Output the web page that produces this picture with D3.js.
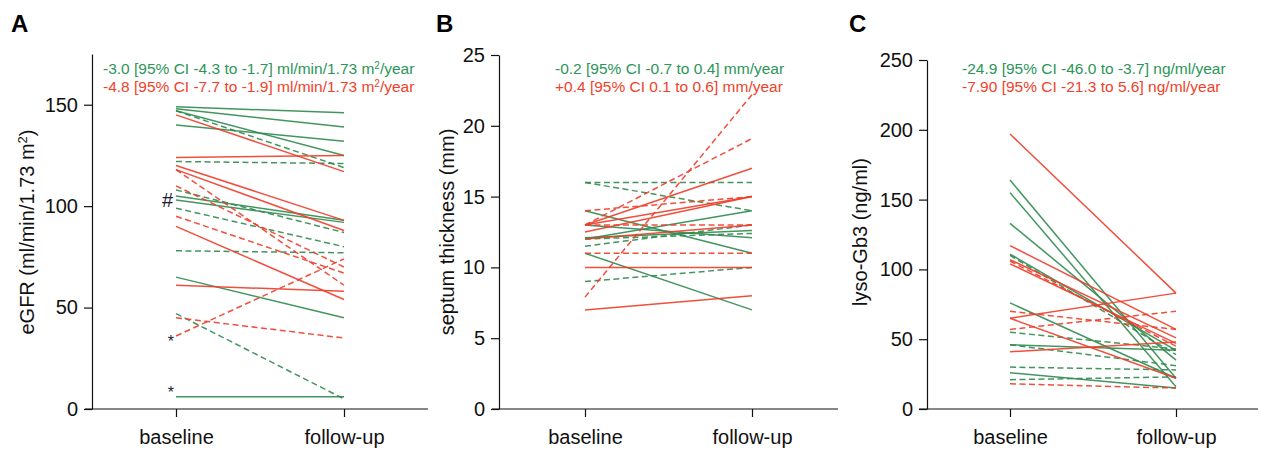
<!DOCTYPE html>
<html>
<head>
<meta charset="utf-8">
<script src="https://cdn.jsdelivr.net/npm/d3@7"></script>
<style>
  body { margin: 0; background: #fff; }
  svg { font-family: "Liberation Sans", Arial, Helvetica, sans-serif; }
  .axis text { font-size: 20px; fill: #111; }
  .axis path, .axis line { stroke: #111; stroke-width: 1.2; }
</style>
</head>
<body>
<svg id="chart" width="1261" height="449"></svg>
<script>
// each pair is [baseline, follow-up]
// A: eGFR
var egfrGreenSolid = [[149, 146], [148, 139], [147, 125], [140, 132], [105, 93], [103, 92], [65, 45], [6, 6]];
var egfrGreenDashed = [[147, 119], [122, 121], [108, 87], [99, 80], [78, 77], [47, 5]];
var egfrRedSolid = [[145, 117], [124, 125], [120, 93], [118, 88], [90, 54], [61, 58]];
var egfrRedDashed = [[118, 61], [110, 70], [95, 67], [45, 35], [36, 74]];
var egfrMarks = [["#", 103], ["*", 35], ["*", 10]];

// B: septum thickness
var septGreenSolid = [[14, 11], [13, 12.1], [12, 14], [12.1, 12.6], [11, 7]];
var septGreenDashed = [[16, 16], [16, 14], [11.5, 13], [12, 12.4], [9, 10]];
var septRedSolid = [[13, 17], [13, 15], [12.5, 15], [12, 13], [10, 10], [7, 8]];
var septRedDashed = [[14, 15], [13, 19.1], [13, 13], [11, 11], [7.9, 22.2]];

// C: lyso-Gb3
var lysoGreenSolid = [[164, 22], [155, 16], [133, 35], [111, 42], [76, 22], [46, 42], [26, 15]];
var lysoGreenDashed = [[110, 39], [55, 43], [46, 31], [30, 28], [21, 23]];
var lysoRedSolid = [[197, 83], [65, 83], [65, 22], [117, 57], [107, 51], [104, 47], [41, 48]];
var lysoRedDashed = [[70, 57], [57, 70], [106, 45], [18, 15]];

var timepoints = ["baseline", "follow-up"];

var green = "#2f8a4f";
var red = "#f03c28";
var greenText = "#2c9558";
var redText = "#f23f2a";

var svg = d3.select("#chart");

function drawPanel(p) {
    var y = d3.scaleLinear().domain(p.yDomain).range([409, p.yTop]);
    var x = d3.scalePoint().domain(timepoints).range(p.xRange);

    var g = svg.append("g");

    // x axis: long base line + ticks
    g.append("line")
        .attr("x1", p.xLine[0]).attr("x2", p.xLine[1])
        .attr("y1", 409).attr("y2", 409)
        .attr("stroke", "#111").attr("stroke-width", 1.2);
    var gx = g.append("g")
        .attr("class", "axis")
        .attr("transform", "translate(0,409)")
        .call(d3.axisBottom(x).tickSize(8).tickPadding(13));
    gx.select(".domain").remove();

    var gy = g.append("g")
        .attr("class", "axis")
        .attr("transform", "translate(" + p.yAxisX + ",0)")
        .call(d3.axisLeft(y).tickValues(p.yTicks).tickSize(8).tickSizeOuter(0).tickPadding(6));

    var line = d3.line()
        .x(function (d, i) { return x(timepoints[i]); })
        .y(function (d) { return y(d); });

    p.series.forEach(function (s) {
        g.append("g").selectAll("path")
            .data(s.data)
            .enter().append("path")
            .attr("d", line)
            .attr("fill", "none")
            .attr("stroke", s.color)
            .attr("stroke-width", 1.5)
            .attr("stroke-opacity", 0.9)
            .attr("stroke-dasharray", s.dashed ? "6,3.5" : null);
    });

    // y label
    var lab = g.append("text")
        .attr("transform", "translate(" + p.labelX + ",232) rotate(-90)")
        .attr("text-anchor", "middle")
        .style("font-size", "20px")
        .attr("fill", "#111");
    p.label.forEach(function (part) {
        var t = lab.append("tspan").text(part.t);
        if (part.sup) t.attr("baseline-shift", "super").style("font-size", "13px");
    });

    // panel letter
    g.append("text")
        .attr("x", p.letterX).attr("y", 32)
        .style("font-size", "24px").style("font-weight", "bold")
        .attr("fill", "#000")
        .text(p.letter);

    // slope annotations
    p.notes.forEach(function (n, i) {
        var t = g.append("text")
            .attr("x", p.noteX).attr("y", 74 + i * 18)
            .style("font-size", "15.5px")
            .attr("fill", n.color);
        n.parts.forEach(function (part) {
            var s = t.append("tspan").text(part.t);
            if (part.sup) s.attr("baseline-shift", "super").style("font-size", "10px");
        });
    });

    return { x: x, y: y, g: g };
}

var a = drawPanel({
    letter: "A", letterX: 11,
    yDomain: [0, 175], yTop: 54, yTicks: [0, 50, 100, 150], yAxisX: 92,
    xRange: [176, 344], xLine: [85, 428],
    labelX: 34,
    label: [{ t: "eGFR (ml/min/1.73 m" }, { t: "2", sup: true }, { t: ")" }],
    noteX: 103,
    notes: [
        { color: greenText, parts: [{ t: "-3.0 [95% CI -4.3 to -1.7] ml/min/1.73 m" }, { t: "2", sup: true }, { t: "/year" }] },
        { color: redText, parts: [{ t: "-4.8 [95% CI -7.7 to -1.9] ml/min/1.73 m" }, { t: "2", sup: true }, { t: "/year" }] }
    ],
    series: [
        { data: egfrGreenSolid, color: green, dashed: false },
        { data: egfrGreenDashed, color: green, dashed: true },
        { data: egfrRedSolid, color: red, dashed: false },
        { data: egfrRedDashed, color: red, dashed: true }
    ]
});

// markers next to the baseline values
a.g.selectAll(".mark")
    .data(egfrMarks)
    .enter().append("text")
    .attr("class", "mark")
    .attr("x", function (d) { return a.x("baseline") - (d[0] == "#" ? 3 : 2); })
    .attr("y", function (d) { return a.y(d[1]); })
    .attr("dy", function (d) { return d[0] == "#" ? "0.35em" : "0.55em"; })
    .attr("text-anchor", "end")
    .style("font-size", function (d) { return d[0] == "#" ? "20px" : "16px"; })
    .attr("fill", "#1b1b35")
    .text(function (d) { return d[0]; });

drawPanel({
    letter: "B", letterX: 436,
    yDomain: [0, 25], yTop: 55, yTicks: [0, 5, 10, 15, 20, 25], yAxisX: 499,
    xRange: [585, 752], xLine: [492, 838],
    labelX: 454,
    label: [{ t: "septum thickness (mm)" }],
    noteX: 555,
    notes: [
        { color: greenText, parts: [{ t: "-0.2 [95% CI -0.7 to 0.4] mm/year" }] },
        { color: redText, parts: [{ t: "+0.4 [95% CI 0.1 to 0.6] mm/year" }] }
    ],
    series: [
        { data: septGreenSolid, color: green, dashed: false },
        { data: septGreenDashed, color: green, dashed: true },
        { data: septRedSolid, color: red, dashed: false },
        { data: septRedDashed, color: red, dashed: true }
    ]
});

drawPanel({
    letter: "C", letterX: 849,
    yDomain: [0, 250], yTop: 60, yTicks: [0, 50, 100, 150, 200, 250], yAxisX: 927,
    xRange: [1010, 1176], xLine: [919, 1258],
    labelX: 867,
    label: [{ t: "lyso-Gb3 (ng/ml)" }],
    noteX: 962,
    notes: [
        { color: greenText, parts: [{ t: "-24.9 [95% CI -46.0 to -3.7] ng/ml/year" }] },
        { color: redText, parts: [{ t: "-7.90 [95% CI -21.3 to 5.6] ng/ml/year" }] }
    ],
    series: [
        { data: lysoGreenSolid, color: green, dashed: false },
        { data: lysoGreenDashed, color: green, dashed: true },
        { data: lysoRedSolid, color: red, dashed: false },
        { data: lysoRedDashed, color: red, dashed: true }
    ]
});
</script>
</body>
</html>
